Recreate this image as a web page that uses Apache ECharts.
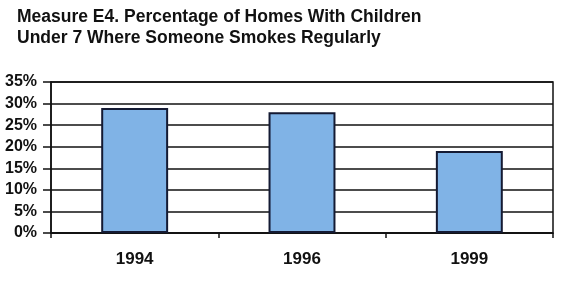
<!DOCTYPE html>
<html><head><meta charset="utf-8">
<script src="https://cdn.jsdelivr.net/npm/echarts@6/dist/echarts.min.js"></script>
<style>html,body{margin:0;padding:0;background:#fff}#c{width:568px;height:284px}</style>
</head><body><div id="c"></div>
<script>
const titleLines = ["Measure E4. Percentage of Homes With Children", "Under 7 Where Someone Smokes Regularly"];
const categories = ["1994", "1996", "1999"];
const values = [29, 28, 19];
const yMin = 0, yMax = 35, yStep = 5;

const chart = echarts.init(document.getElementById('c'), null, {renderer: 'canvas'});
chart.setOption({
  animation: false,
  backgroundColor: '#ffffff',
  title: {
    text: titleLines.join('\n'),
    left: 12, top: 2,
    textStyle: {fontFamily: 'Liberation Sans, Arial, sans-serif', fontWeight: 'bold', fontSize: 17.5, lineHeight: 21, color: '#111'}
  },
  grid: {left: 51, right: 15, top: 82, bottom: 51, containLabel: false, show: true, borderColor: '#111', borderWidth: 1.5, backgroundColor: 'transparent'},
  xAxis: {
    type: 'category', data: categories,
    axisLine: {show: true, lineStyle: {color: '#111', width: 1.5}},
    axisTick: {show: true, length: 5, lineStyle: {color: '#111', width: 1.5}},
    axisLabel: {fontFamily: 'Liberation Sans, Arial, sans-serif', fontWeight: 'bold', fontSize: 17, color: '#111', margin: 18}
  },
  yAxis: {
    type: 'value', min: yMin, max: yMax, interval: yStep,
    axisLine: {show: true, lineStyle: {color: '#111', width: 1.5}},
    axisTick: {show: true, length: 8, lineStyle: {color: '#111', width: 1.5}},
    splitLine: {show: true, lineStyle: {color: '#111', width: 1.5}},
    axisLabel: {formatter: '{value}%', fontFamily: 'Liberation Sans, Arial, sans-serif', fontWeight: 'bold', fontSize: 16, color: '#111', margin: 14}
  },
  series: [{
    type: 'bar', data: values, barWidth: '40%',
    itemStyle: {color: '#80b3e6', borderColor: '#141a33', borderWidth: 2}
  }]
});
</script></body></html>
